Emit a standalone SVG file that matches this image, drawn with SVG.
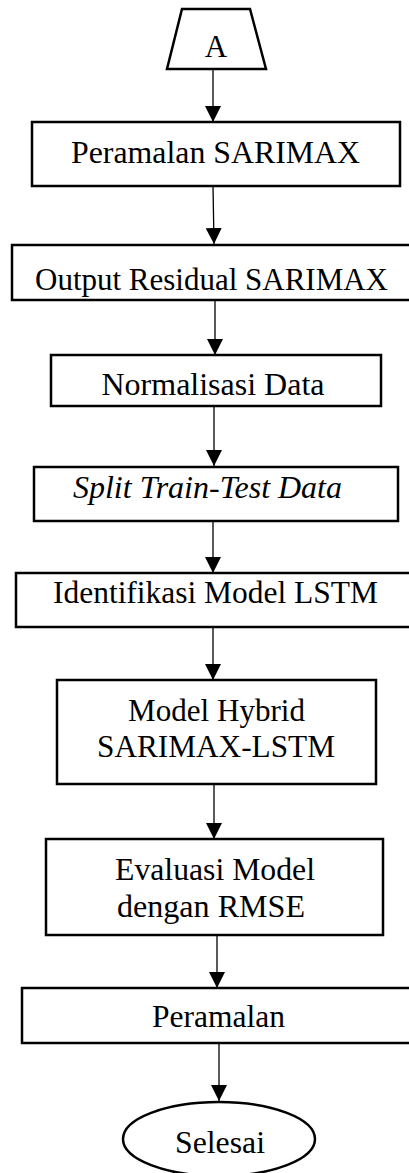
<svg xmlns="http://www.w3.org/2000/svg" width="409" height="1173" viewBox="0 0 409 1173">
<style>
.box{fill:#fff;stroke:#000;stroke-width:2.5}
.t{font-family:"Liberation Serif","Times New Roman",serif;font-size:31px;fill:#000;text-anchor:middle}
.it{font-style:italic}
.conn line{stroke:#000;stroke-width:1.3;marker-end:url(#arr)}
</style>
<defs>
<marker id="arr" markerUnits="userSpaceOnUse" markerWidth="16" markerHeight="16" viewBox="0 0 16 16" refX="16" refY="8" orient="auto">
<path d="M0,0 L16,8 L0,16 z" fill="#000"/>
</marker>
</defs>
<rect width="409" height="1173" fill="#fff"/>
<g class="conn" id="connectors">
<line x1="213" y1="69" x2="213" y2="122"/>
<line x1="213" y1="186" x2="214" y2="244"/>
<line x1="215" y1="300" x2="215" y2="355"/>
<line x1="214" y1="406" x2="214" y2="466"/>
<line x1="213" y1="521" x2="213" y2="573"/>
<line x1="213" y1="627" x2="213" y2="680"/>
<line x1="214" y1="784" x2="214" y2="839"/>
<line x1="217" y1="935" x2="217" y2="988"/>
<line x1="219" y1="1043" x2="219" y2="1101"/>
</g>
<g id="n0">
<polygon class="box" points="182,9 250,9 266,69 167,69"/>
<text class="t" x="216" y="57">A</text>
</g>
<g id="n1">
<rect class="box" x="32" y="122" width="368" height="64"/>
<text class="t" x="215.5" y="163" textLength="289" lengthAdjust="spacingAndGlyphs">Peramalan SARIMAX</text>
</g>
<g id="n2">
<rect class="box" x="12" y="245" width="402" height="55"/>
<text class="t" x="211.5" y="290" textLength="353" lengthAdjust="spacingAndGlyphs">Output Residual SARIMAX</text>
</g>
<g id="n3">
<rect class="box" x="51" y="355" width="330" height="51"/>
<text class="t" x="213" y="395" textLength="223" lengthAdjust="spacingAndGlyphs">Normalisasi Data</text>
</g>
<g id="n4">
<rect class="box" x="34" y="467" width="364" height="54"/>
<text class="t it" x="207.5" y="498" textLength="269" lengthAdjust="spacingAndGlyphs">Split Train-Test Data</text>
</g>
<g id="n5">
<rect class="box" x="16" y="573" width="398" height="54"/>
<text class="t" x="215.5" y="603" textLength="325" lengthAdjust="spacingAndGlyphs">Identifikasi Model LSTM</text>
</g>
<g id="n6">
<rect class="box" x="57" y="680" width="319" height="104"/>
<text class="t" x="216.5" y="721" textLength="177" lengthAdjust="spacingAndGlyphs">Model Hybrid</text>
<text class="t" x="216" y="757" textLength="238" lengthAdjust="spacingAndGlyphs">SARIMAX-LSTM</text>
</g>
<g id="n7">
<rect class="box" x="46" y="839" width="337" height="96"/>
<text class="t" x="215" y="880" textLength="200" lengthAdjust="spacingAndGlyphs">Evaluasi Model</text>
<text class="t" x="211" y="917" textLength="188" lengthAdjust="spacingAndGlyphs">dengan RMSE</text>
</g>
<g id="n8">
<rect class="box" x="22" y="988" width="392" height="55"/>
<text class="t" x="218.5" y="1027" textLength="133" lengthAdjust="spacingAndGlyphs">Peramalan</text>
</g>
<g id="n9">
<ellipse class="box" cx="219" cy="1139" rx="96" ry="37"/>
<text class="t" x="220" y="1153" textLength="90" lengthAdjust="spacingAndGlyphs">Selesai</text>
</g>
</svg>
